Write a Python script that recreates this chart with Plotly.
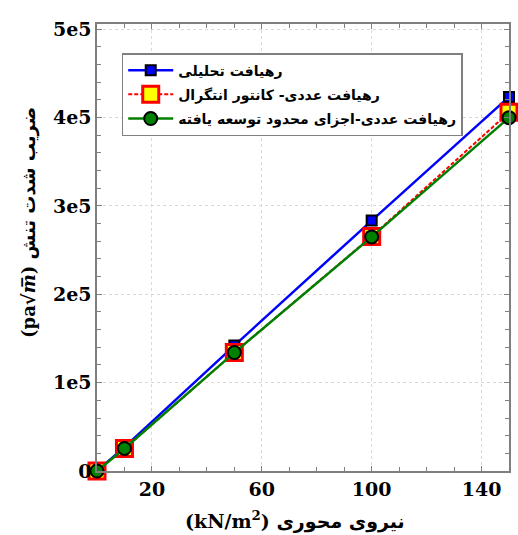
import plotly.graph_objects as go

# Axial load (kN/m^2) and stress intensity factor results
axial_load = [0, 10, 50, 100, 150]
k_analytical = [0, 27000, 142000, 283500, 423500]
k_contour = [0, 25500, 134000, 265500, 406000]
k_xfem = [0, 25500, 134000, 265000, 400000]

series_names = [
    "رهیافت تحلیلی",
    "رهیافت عددی- کانتور انتگرال",
    "رهیافت عددی-اجزای محدود توسعه یافته",
]

x_label_vals = [20, 60, 100, 140]
x_grid_vals = [0, 40, 80, 120]
y_tick_vals = [0, 100000, 200000, 300000, 400000, 500000]
y_tick_text = ["0", "1e5", "2e5", "3e5", "4e5", "5e5"]

x_title = "(kN/m<sup>2</sup>) نیروی محوری"
y_title = "(pa√<i>m̅</i>) ضریب شدت تنش"

serif = "DejaVu Serif, DejaVu Sans"
axis_gray = "#7f7f7f"
grid_style = dict(showgrid=True, gridcolor="#d9d9d9", griddash="dot", gridwidth=1)

fig = go.Figure()

fig.add_trace(go.Scatter(
    x=axial_load, y=k_analytical, name=series_names[0], mode="lines+markers",
    legendgroup="a", cliponaxis=False,
    line=dict(color="#0000ff", width=2.5),
    marker=dict(symbol="square", size=10, color="#0000ff",
                line=dict(color="black", width=2)),
))
fig.add_trace(go.Scatter(
    x=axial_load, y=k_contour, name=series_names[1], mode="lines+markers",
    legendgroup="b", cliponaxis=False,
    line=dict(color="#ff0000", width=2, dash="4px,2px"),
    marker=dict(symbol="square", size=16, color="#ffff00",
                line=dict(color="#ff0000", width=3)),
))
fig.add_trace(go.Scatter(
    x=axial_load, y=k_xfem, name=series_names[2], mode="lines+markers",
    legendgroup="c", cliponaxis=False,
    line=dict(color="#008000", width=2.5),
    marker=dict(symbol="circle", size=13, color="#008000",
                line=dict(color="black", width=2)),
))

fig.update_layout(
    xaxis=dict(
        range=[0, 150],
        tickmode="array", tickvals=x_label_vals,
        ticks="inside", ticklen=5, tickcolor=axis_gray,
        showline=True, linecolor=axis_gray, linewidth=1.5, mirror="ticks",
        zeroline=False, **grid_style,
        tickfont=dict(family=serif, size=19, color="black", weight="bold"),
        minor=dict(dtick=10, tick0=0, ticks="inside", ticklen=4,
                   tickcolor=axis_gray, showgrid=False),
    ),
    # unlabeled companion axis carrying the remaining vertical grid lines
    xaxis2=dict(
        overlaying="x", anchor="y", matches="x", range=[0, 150],
        tickmode="array", tickvals=x_grid_vals, showticklabels=False,
        ticks="inside", ticklen=5, tickcolor=axis_gray,
        showline=False, zeroline=False, **grid_style,
    ),
    yaxis=dict(
        range=[0, 506000],
        tickmode="array", tickvals=y_tick_vals, ticktext=y_tick_text,
        ticks="inside", ticklen=5, tickcolor=axis_gray,
        showline=True, linecolor=axis_gray, linewidth=1.5, mirror="ticks",
        zeroline=False, **grid_style,
        tickfont=dict(family=serif, size=19, color="black", weight="bold"),
        minor=dict(dtick=20000, tick0=0, ticks="inside", ticklen=4,
                   tickcolor=axis_gray, showgrid=False),
    ),
)

fig.add_annotation(
    text=x_title, xref="paper", yref="paper", x=0.48, y=-0.11,
    xanchor="center", yanchor="middle", showarrow=False,
    font=dict(family=serif, size=19, color="black", weight="bold"),
)
fig.add_annotation(
    text=y_title, xref="paper", yref="paper", x=-0.165, y=0.555,
    xanchor="center", yanchor="middle", showarrow=False, textangle=-90,
    font=dict(family=serif, size=18, color="black", weight="bold"),
)

fig.update_layout(
    width=518, height=535,
    margin=dict(l=97, r=7, t=24, b=64),
    paper_bgcolor="white", plot_bgcolor="white",
    showlegend=True,
    legend=dict(
        x=0.06, y=0.935, xanchor="left", yanchor="top",
        bgcolor="white", bordercolor="#808080", borderwidth=1.5,
        itemwidth=45, tracegroupgap=3,
        font=dict(family="DejaVu Sans", size=14, color="black", weight="bold"),
    ),
)

fig.write_html("out.html")
